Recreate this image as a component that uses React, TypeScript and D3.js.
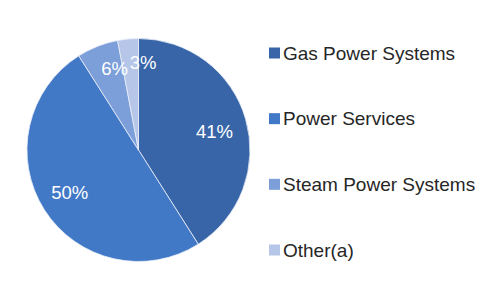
import React from "react";
import * as d3 from "d3";

const categories = ["Gas Power Systems", "Power Services", "Steam Power Systems", "Other(a)"];
const values = [41, 50, 6, 3];
const colors = ["#3765a7", "#4279c7", "#7c9fd9", "#b5c6e8"];
const labelRadiusFactor = [0.7, 0.73, 0.8, 0.8];
const labelDx = [1, 0, 9, 13];
const labelDy = [3, -1, 1, 1];

export default function App() {
  const width = 500, height = 300;
  const cx = 138.5, cy = 150, r = 111.5;
  const pie = d3.pie<number>().sort(null).value((d) => d)(values);
  const arc = d3.arc<d3.PieArcDatum<number>>().innerRadius(0).outerRadius(r);
  const total = d3.sum(values);
  const legendY = d3.scalePoint<string>().domain(categories).range([53, 250]);

  return (
    <svg width={width} height={height} style={{ position: "absolute", left: 0, top: 0 }}
      fontFamily="'Liberation Sans', Arial, sans-serif">
      <rect width={width} height={height} fill="#fff" />
      <g transform={`translate(${cx},${cy})`}>
        {pie.map((p, i) => (
          <path key={i} d={arc(p) || ""} fill={colors[i]} stroke="#e8eef8" strokeWidth={0.8} />
        ))}
        {pie.map((p, i) => {
          const lr = r * labelRadiusFactor[i];
          const c = d3.arc<d3.PieArcDatum<number>>().innerRadius(lr).outerRadius(lr).centroid(p);
          return (
            <text key={i} x={c[0] + labelDx[i]} y={c[1] + labelDy[i]} dy="0.35em" textAnchor="middle"
              fill="#fff" fontSize={18.5}>
              {Math.round((values[i] / total) * 100)}%
            </text>
          );
        })}
      </g>
      {categories.map((c, i) => (
        <g key={c} transform={`translate(269,${legendY(c)})`}>
          <rect x={0} y={-5.5} width={11} height={11} fill={colors[i]} />
          <text x={14} y={0} dy="0.35em" fontSize={19} fill="#262626">{c}</text>
        </g>
      ))}
    </svg>
  );
}
